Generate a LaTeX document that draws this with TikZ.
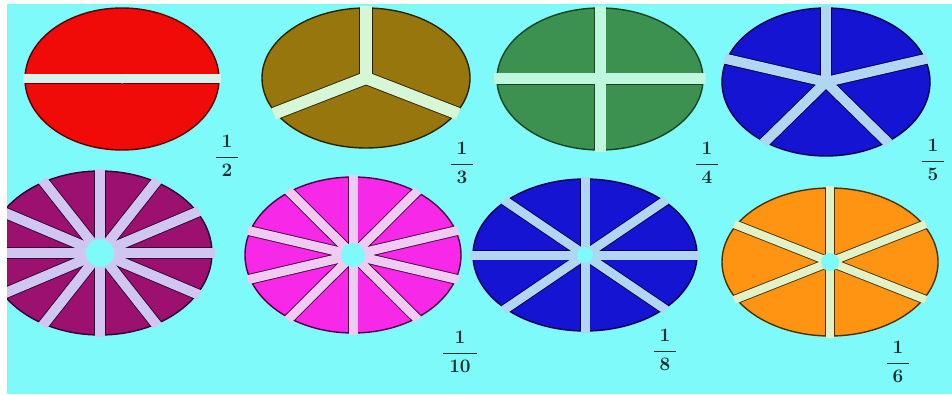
\documentclass[tikz,border=0pt]{standalone}
\usepackage{fix-cm}
\definecolor{bg}{RGB}{125,250,249}
\definecolor{labeltext}{RGB}{24,44,44}
\definecolor{redf}{RGB}{240,10,8}
\definecolor{redo}{RGB}{90,0,0}
\definecolor{redg}{RGB}{214,242,234}
\definecolor{olivef}{RGB}{152,118,14}
\definecolor{oliveo}{RGB}{45,35,0}
\definecolor{oliveg}{RGB}{214,246,214}
\definecolor{greenf}{RGB}{60,144,80}
\definecolor{greeno}{RGB}{22,70,30}
\definecolor{greeng}{RGB}{190,246,222}
\definecolor{bluef}{RGB}{20,20,210}
\definecolor{blueo}{RGB}{0,0,80}
\definecolor{blueg}{RGB}{176,214,242}
\definecolor{purplef}{RGB}{156,16,112}
\definecolor{purpleo}{RGB}{50,0,50}
\definecolor{purpleg}{RGB}{208,198,242}
\definecolor{magentaf}{RGB}{248,40,232}
\definecolor{magentao}{RGB}{80,0,64}
\definecolor{magentag}{RGB}{238,204,242}
\definecolor{orangef}{RGB}{255,148,18}
\definecolor{orangeo}{RGB}{80,48,0}
\definecolor{orangeg}{RGB}{226,242,200}
\newcommand{\gw}{10}
\newcommand{\fr}[2]{$\displaystyle\frac{\hspace{6pt}#1\hspace{6pt}}{\hspace{6pt}\rule{0pt}{17pt}#2\hspace{6pt}}$}
% #1 cx, #2 cy, #3 rx, #4 ry, #5 fill, #6 outline, #7 gap colour, #8 angles
\newcommand{\piechart}[8]{%
  \fill[#5] (#1,#2) ellipse [x radius=#3, y radius=#4];
  \begin{scope}
    \clip (#1,#2) ellipse [x radius=#3, y radius=#4];
    \foreach \a in {#8} \draw[#6, line width=\gw pt+1.8pt] (#1,#2) -- ++({#3*1.05*cos(\a)},{#4*1.05*sin(\a)});
    \fill[#6] (#1,#2) circle [radius=\gw pt/2+0.9pt];
  \end{scope}
  \draw[#6, line width=1.4pt] (#1,#2) ellipse [x radius=#3, y radius=#4];
  \foreach \a in {#8} \draw[#7, line width=\gw pt] (#1,#2) -- ++({#3*1.025*cos(\a)},{#4*1.025*sin(\a)});
  \fill[#7] (#1,#2) circle [radius=\gw pt/2];
}
\begin{document}
\begin{tikzpicture}[x=1pt,y=1pt,
  lbl/.style={inner sep=0pt, text=labeltext, font=\fontsize{19}{22}\selectfont\boldmath}]
\useasboundingbox (0,0) rectangle (952,394);
\fill[white] (0,0) rectangle (952,394);
\fill[bg] (7,0) rectangle (952,390);

% top row
\renewcommand{\gw}{9}
\piechart{122}{315}{97}{71}{redf}{redo}{redg}{0,180}
\renewcommand{\gw}{12}
\piechart{366}{316}{104}{70}{olivef}{oliveo}{oliveg}{90,210,330}
\renewcommand{\gw}{11}
\piechart{600}{315}{103}{71}{greenf}{greeno}{greeng}{0,90,180,270}
\renewcommand{\gw}{10}
\piechart{826}{312}{104}{74}{bluef}{blueo}{blueg}{18,90,162,234,306}

% bottom row
\renewcommand{\gw}{10}
\piechart{100}{141}{112}{82}{purplef}{purpleo}{purpleg}{0,30,...,330}
\fill[bg] (100,141) circle [radius=14];
\renewcommand{\gw}{9}
\piechart{353}{139}{108}{78}{magentaf}{magentao}{magentag}{18,54,...,342}
\fill[bg] (353,139) circle [radius=12];
\renewcommand{\gw}{9}
\piechart{585}{139}{112}{76}{bluef}{blueo}{blueg}{0,45,...,315}
\fill[bg] (585,139) circle [radius=8];
\renewcommand{\gw}{8}
\piechart{830}{132}{108}{74}{orangef}{orangeo}{orangeg}{30,90,...,330}
\fill[bg] (830,132) circle [radius=9];

% labels
\node[lbl] (half) at (227,238) {\fr{1}{2}};
\node[lbl] (third) at (462,231) {\fr{1}{3}};
\node[lbl] (quarter) at (707,231) {\fr{1}{4}};
\node[lbl] (fifth) at (933,234) {\fr{1}{5}};
\node[lbl] (tenth) at (460,42) {\fr{1}{10}};
\node[lbl] (eighth) at (665,44) {\fr{1}{8}};
\node[lbl] (sixth) at (898,32) {\fr{1}{6}};

% white strip on the left edge
\fill[white] (0,0) rectangle (7,394);
\end{tikzpicture}
\end{document}
